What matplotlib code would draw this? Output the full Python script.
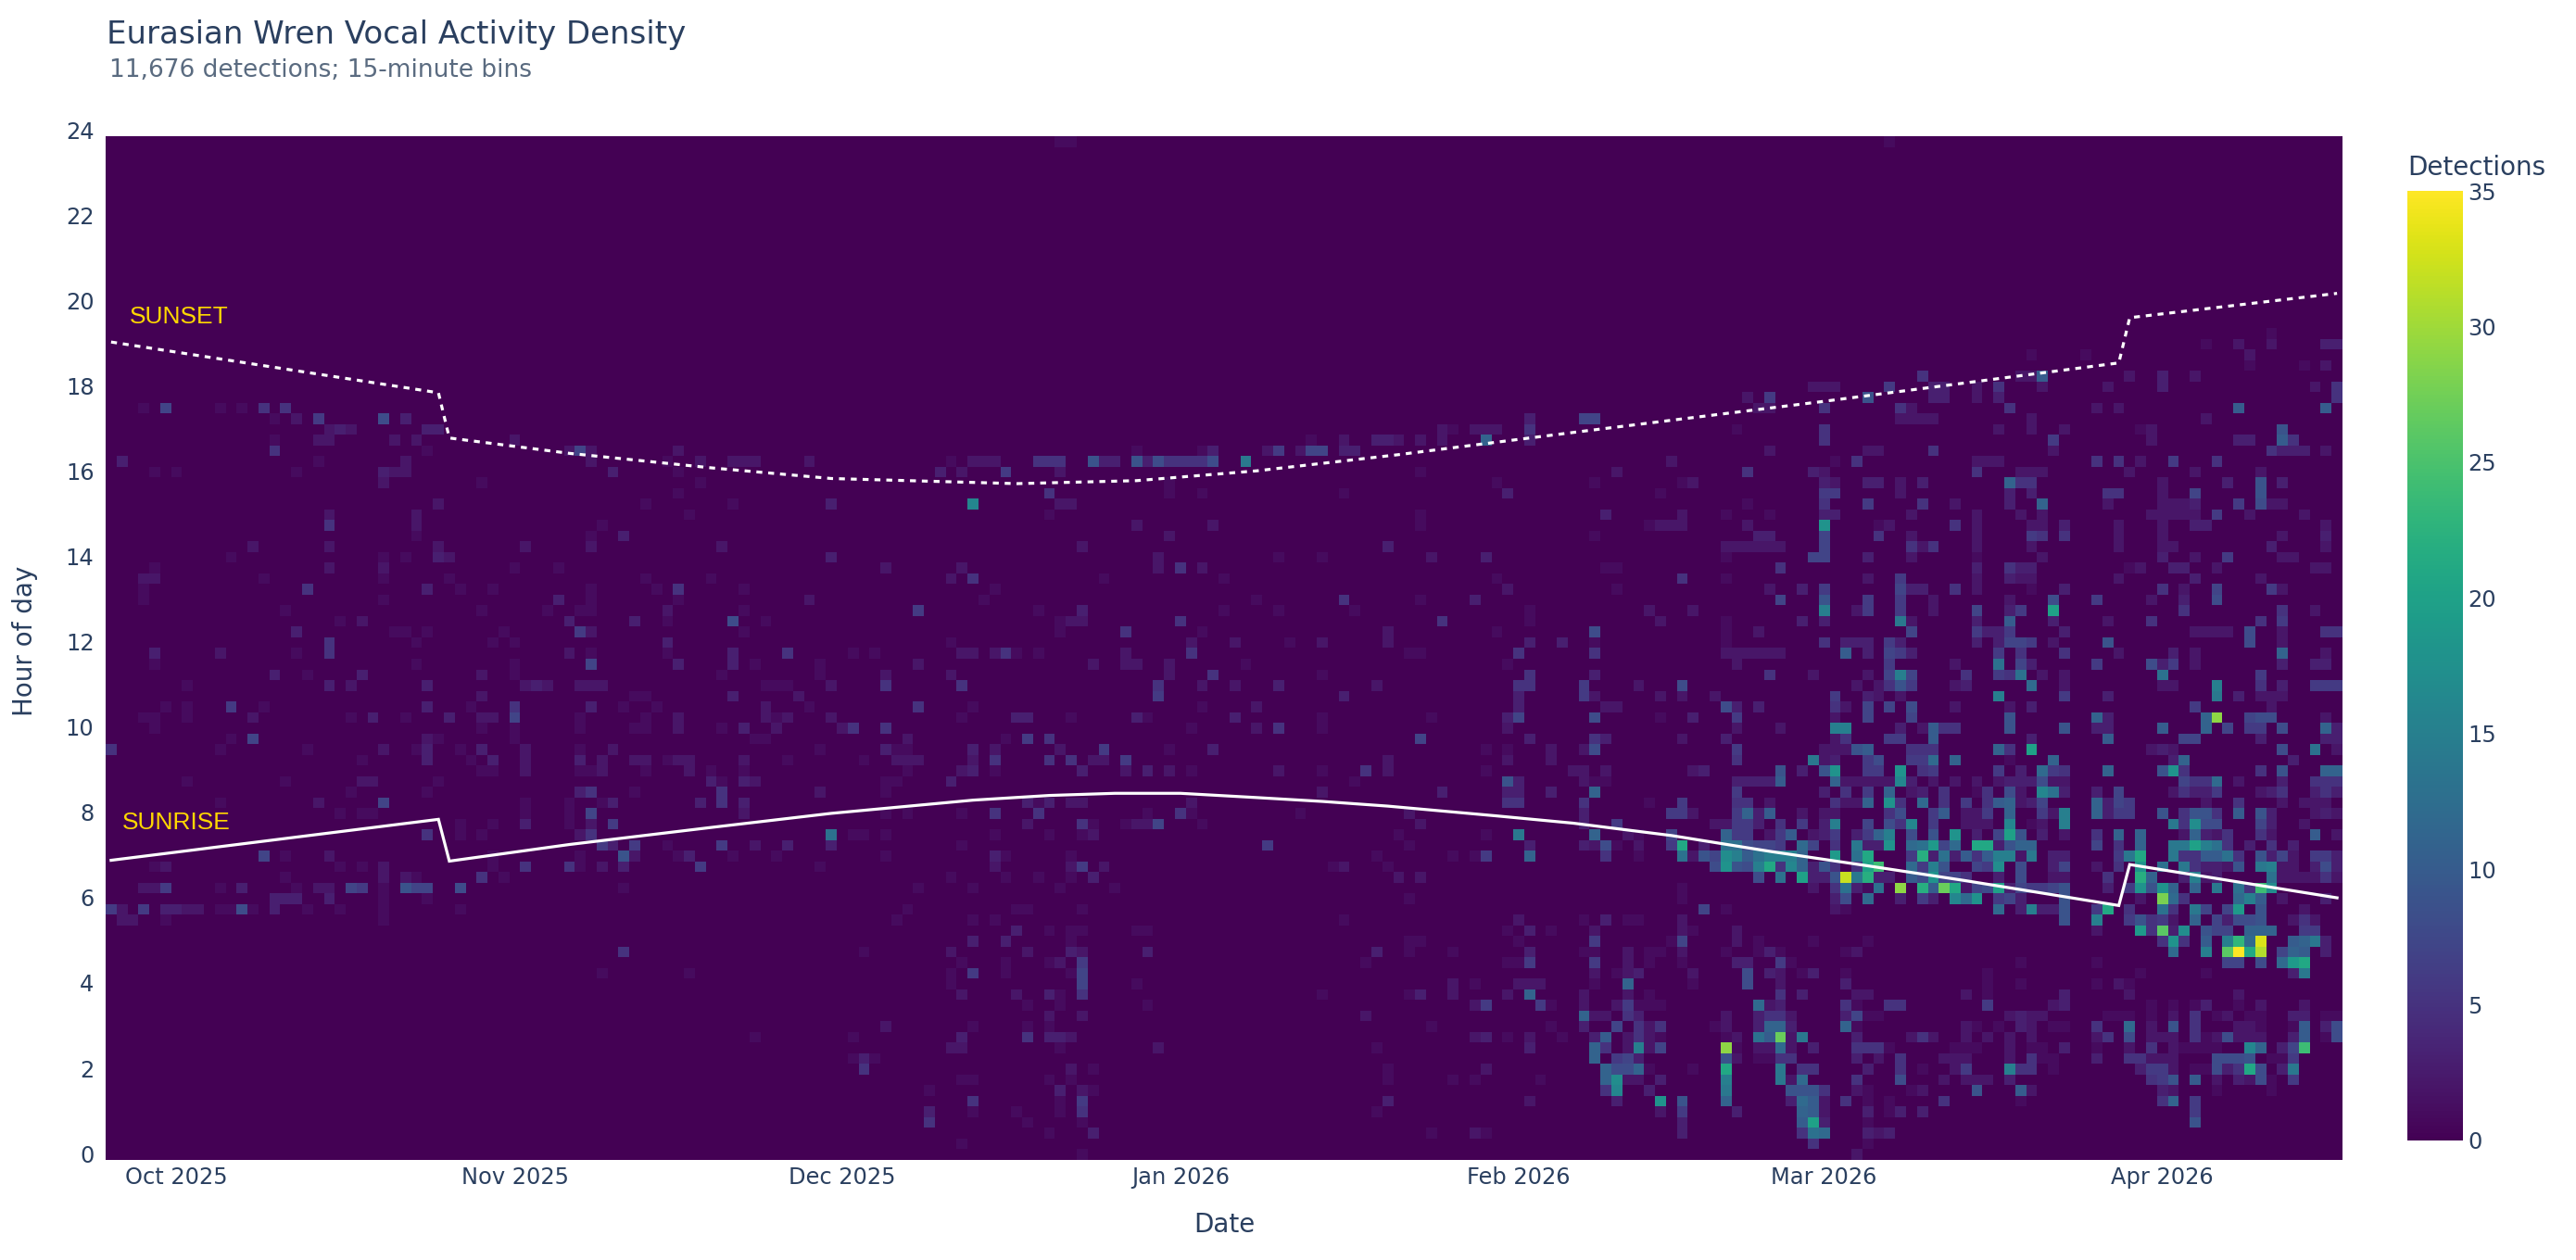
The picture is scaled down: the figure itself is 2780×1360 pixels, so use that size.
import numpy as np
import pandas as pd
import matplotlib
matplotlib.use("Agg")
import matplotlib.pyplot as plt

# --- DATES AND TICKS ---
first_day = pd.Timestamp("2025-09-25")
n_days = 205
n_slots = 96  # 15-minute bins
month_ticks = ["2025-10-01", "2025-11-01", "2025-12-01", "2026-01-01", "2026-02-01", "2026-03-01", "2026-04-01"]
hour_ticks = [0, 2, 4, 6, 8, 10, 12, 14, 16, 18, 20, 22, 24]
count_ticks = [0, 5, 10, 15, 20, 25, 30, 35]

# --- SUN TIMES (day number, hour) ---
sunrise_days = [0, 30, 31, 42, 55, 66, 79, 86, 92, 98, 105, 111, 117, 127, 134, 143, 152, 161, 170, 184, 185, 204]
sunrise_hours = [6.90, 7.86, 6.88, 7.27, 7.67, 8.00, 8.31, 8.42, 8.47, 8.47, 8.37, 8.28, 8.17, 7.94, 7.77, 7.48, 7.11, 6.77, 6.42, 5.84, 6.80, 6.02]
sunset_days = [0, 30, 31, 42, 55, 66, 83, 94, 105, 118, 134, 157, 184, 185, 204]
sunset_hours = [19.05, 17.86, 16.80, 16.44, 16.10, 15.85, 15.73, 15.80, 16.03, 16.41, 16.93, 17.66, 18.56, 19.62, 20.19]

# --- DETECTIONS: {slot: {day number: level}}, empty cells are zero ---
autumn_counts = {
    70: {3: 2, 5: 7, 10: 2, 12: 2, 14: 5, 16: 5},
    69: {15: 2, 17: 3, 19: 6, 25: 8, 27: 4},
    68: {20: 3, 21: 4, 22: 3, 29: 4, 30: 4},
    67: {15: 2, 19: 3, 20: 3, 26: 3, 28: 3, 37: 3},
    66: {15: 5, 29: 2, 42: 3, 43: 7, 44: 3, 52: 3},
    65: {1: 4, 19: 2, 27: 3, 44: 3, 51: 2, 54: 3, 57: 3, 58: 3, 59: 3, 64: 3},
    64: {4: 2, 6: 2, 17: 2, 25: 4, 26: 3, 27: 3, 46: 4, 52: 2},
    63: {25: 3, 34: 2, 54: 2},
    62: {52: 2},
    61: {30: 3, 49: 2, 57: 2, 66: 4},
    60: {20: 3, 28: 3, 53: 2},
    59: {20: 5, 28: 3, 45: 2},
    58: {28: 2, 44: 2, 47: 4},
    57: {13: 3, 20: 3, 30: 3, 38: 3, 44: 3, 56: 3},
    56: {11: 2, 25: 2, 27: 2, 30: 4, 31: 3, 66: 4},
    55: {4: 2, 20: 3, 25: 3, 37: 2, 41: 2},
    54: {3: 3, 4: 3, 14: 2, 25: 2, 31: 2, 49: 2, 55: 2},
    53: {3: 2, 18: 5, 29: 4, 32: 2, 35: 2, 44: 2, 50: 2, 52: 5, 58: 2},
    52: {3: 2, 25: 2, 41: 4, 44: 2, 52: 2, 64: 3},
    51: {16: 2, 34: 2, 40: 2, 43: 2, 44: 2, 51: 3, 58: 2},
    50: {21: 2, 23: 3, 42: 4, 48: 4, 51: 2, 57: 8, 60: 2},
    49: {17: 4, 26: 2, 27: 2, 29: 2, 36: 2, 43: 6, 44: 3, 58: 2},
    48: {20: 5, 28: 2, 35: 2, 37: 2, 51: 4},
    47: {4: 4, 10: 3, 17: 2, 20: 5, 42: 3, 44: 2, 51: 2, 57: 4, 62: 5},
    46: {4: 2, 28: 2, 37: 2, 44: 7, 52: 4, 57: 4, 59: 2, 65: 2},
    45: {15: 4, 18: 2, 23: 4, 34: 3, 37: 2, 56: 2, 65: 2},
    44: {7: 2, 20: 4, 22: 3, 29: 4, 38: 3, 39: 4, 40: 3, 43: 3, 44: 3, 45: 3, 60: 2, 61: 2, 62: 2, 66: 3},
    43: {34: 3, 48: 2, 49: 2, 57: 4, 63: 3},
    42: {5: 2, 7: 2, 11: 6, 14: 2, 29: 4, 33: 2, 37: 5, 44: 4, 47: 2, 50: 2, 60: 3, 64: 2},
    41: {3: 2, 4: 2, 7: 2, 13: 3, 22: 2, 24: 4, 27: 2, 31: 4, 34: 3, 35: 3, 37: 7, 43: 2, 49: 2, 52: 3, 60: 3, 61: 2, 62: 3, 66: 3},
    40: {4: 2, 34: 2, 37: 2, 43: 2, 48: 2, 49: 2, 52: 3, 56: 2, 58: 4, 61: 3},
    39: {11: 2, 13: 7, 29: 3, 30: 2, 37: 2, 59: 2, 60: 2},
    38: {0: 5, 10: 2, 18: 2, 25: 3, 28: 2, 29: 4, 32: 2, 34: 4, 38: 3, 43: 2, 46: 3, 65: 2},
    37: {23: 2, 29: 4, 33: 2, 35: 4, 38: 3, 43: 4, 45: 3, 48: 3, 49: 3, 51: 2, 52: 3, 53: 3, 58: 3, 62: 2},
    36: {34: 2, 35: 2, 38: 3, 43: 2, 44: 2, 45: 3, 49: 2, 53: 3, 55: 2, 58: 2},
    35: {7: 2, 16: 2, 23: 3, 24: 3, 30: 2, 55: 4, 56: 2, 58: 4, 59: 3},
    34: {22: 2, 29: 2, 43: 4, 44: 5, 48: 2, 56: 5, 65: 3},
    33: {10: 2, 19: 3, 25: 7, 38: 2, 42: 2, 45: 2, 46: 4, 54: 4, 56: 5, 58: 4},
    32: {21: 2, 23: 2, 24: 2, 38: 2, 42: 2, 44: 7, 58: 3},
    31: {32: 2, 35: 2, 38: 4, 42: 2, 44: 3, 46: 6},
    30: {29: 5, 32: 2, 34: 2, 43: 3, 44: 5},
    29: {45: 6, 46: 4, 48: 6, 51: 2, 56: 6, 59: 3, 62: 4},
    28: {14: 7, 16: 2, 20: 3, 35: 2, 43: 2, 47: 9, 48: 3, 52: 2, 53: 4, 57: 2, 61: 2},
    27: {4: 2, 5: 3, 21: 2, 23: 2, 25: 3, 35: 2, 38: 5, 42: 5, 43: 2, 45: 3, 47: 4, 54: 6, 65: 2},
    26: {16: 2, 25: 3, 27: 3, 28: 2, 34: 5, 36: 2},
    25: {3: 3, 4: 3, 5: 6, 10: 2, 12: 4, 17: 2, 19: 3, 20: 3, 22: 7, 23: 6, 25: 2, 27: 9, 28: 7, 29: 7, 32: 8, 47: 2},
    24: {15: 4, 16: 4, 17: 4, 20: 4, 25: 2, 29: 2},
    23: {0: 6, 1: 3, 3: 6, 5: 4, 6: 4, 7: 3, 8: 3, 10: 2, 11: 2, 12: 8, 13: 2, 15: 4, 18: 2, 21: 2, 25: 2, 32: 2},
    22: {1: 3, 2: 3, 5: 2, 25: 2},
    19: {47: 5},
    17: {45: 2, 53: 2},
    11: {59: 2},
}

winter_counts = {
    95: {87: 2, 88: 2},
    69: {130: 4},
    68: {122: 3, 123: 2, 125: 3, 126: 3, 127: 3, 130: 5},
    67: {110: 2, 113: 3, 116: 4, 117: 4, 118: 3, 120: 3, 122: 3, 126: 11, 130: 4},
    66: {94: 2, 100: 2, 101: 4, 106: 3, 107: 6, 109: 3, 110: 7, 111: 7, 113: 4, 114: 4},
    65: {77: 2, 79: 3, 80: 3, 81: 3, 85: 5, 86: 5, 87: 5, 90: 9, 91: 4, 92: 4, 94: 9, 95: 4, 96: 8, 97: 5, 98: 5, 99: 5, 100: 5, 101: 8, 104: 14},
    64: {76: 4, 78: 3, 82: 6, 87: 3, 120: 2},
    63: {97: 2, 127: 2},
    62: {86: 5, 97: 2, 100: 2, 113: 2, 128: 4},
    61: {79: 16, 87: 3, 88: 3},
    60: {86: 2, 120: 2},
    59: {94: 3, 101: 3, 120: 2},
    58: {97: 3},
    57: {89: 3, 117: 4},
    56: {96: 3, 107: 2, 111: 2, 121: 3, 126: 4},
    55: {71: 3, 78: 3, 96: 3, 98: 5, 100: 3},
    54: {77: 3, 79: 5, 91: 2, 102: 2, 127: 2},
    53: {81: 2, 128: 3},
    52: {80: 2, 105: 2, 113: 5, 120: 2, 125: 4},
    51: {74: 6, 85: 2, 89: 4, 102: 2, 107: 2, 114: 2, 130: 2},
    50: {87: 2, 88: 3, 89: 3, 98: 5, 122: 5, 130: 2},
    49: {87: 2, 93: 5, 100: 2, 117: 3, 127: 2},
    48: {77: 2, 99: 3, 103: 3, 108: 2, 111: 3, 117: 3, 130: 4, 133: 4},
    47: {68: 2, 70: 2, 78: 3, 79: 3, 81: 3, 82: 5, 83: 2, 85: 2, 93: 3, 99: 5, 119: 2, 120: 2, 129: 5},
    46: {74: 3, 90: 3, 93: 3, 94: 3, 97: 3, 104: 2, 128: 2},
    45: {71: 3, 77: 3, 97: 3, 101: 5, 111: 2, 130: 5},
    44: {66: 3, 71: 5, 78: 5, 96: 5, 100: 3, 103: 3, 107: 4, 116: 3, 129: 5, 130: 5},
    43: {96: 6, 113: 4, 129: 4},
    42: {74: 5, 79: 2, 100: 2, 105: 3, 129: 4},
    41: {66: 3, 78: 2, 83: 4, 84: 4, 88: 2, 94: 4, 95: 2, 103: 4, 111: 2, 121: 2, 128: 4, 129: 7},
    40: {67: 3, 68: 5, 71: 5, 99: 2, 105: 3, 107: 5, 111: 2, 128: 3},
    39: {73: 3, 82: 2, 84: 6, 86: 5, 120: 7, 130: 4},
    38: {71: 4, 72: 2, 73: 2, 79: 4, 81: 3, 87: 3, 91: 6, 97: 2, 101: 4, 126: 2, 128: 2, 132: 3},
    37: {69: 2, 72: 3, 73: 3, 74: 3, 79: 3, 81: 5, 86: 5, 88: 5, 90: 3, 91: 3, 93: 6, 117: 3, 128: 3, 132: 3},
    36: {73: 2, 78: 3, 79: 4, 81: 2, 89: 4, 93: 3, 95: 4, 97: 3, 99: 2, 107: 3, 111: 2, 115: 5, 117: 3, 126: 2, 134: 3},
    35: {71: 2, 72: 2, 77: 4, 114: 2, 128: 9, 129: 4},
    34: {71: 2, 111: 3, 122: 4, 128: 4, 129: 4, 132: 4},
    33: {84: 4, 85: 2, 86: 4, 88: 3, 89: 3, 99: 3, 128: 5, 129: 5},
    32: {71: 2, 73: 2, 78: 2, 81: 5, 85: 5, 95: 2, 98: 5, 99: 2, 109: 2, 119: 3},
    31: {84: 3, 89: 5, 90: 2, 93: 2, 94: 3, 95: 3, 96: 7, 100: 2, 120: 3},
    30: {66: 13, 68: 2, 69: 2, 71: 2, 81: 2, 86: 2, 89: 2, 90: 3, 118: 2, 126: 2, 129: 14},
    29: {66: 4, 78: 2, 106: 6, 119: 2, 130: 4},
    28: {71: 2, 81: 4, 82: 2, 88: 2, 116: 2, 123: 2, 125: 2, 126: 6, 130: 11},
    27: {81: 3, 88: 3, 89: 6, 91: 3, 112: 2, 113: 3, 117: 2},
    26: {77: 2, 82: 2, 85: 2, 88: 2, 90: 4, 118: 3, 120: 3},
    25: {74: 2, 79: 2, 87: 2, 92: 2},
    24: {119: 2},
    23: {73: 2, 83: 2, 84: 2, 89: 2},
    22: {72: 2, 79: 2, 81: 2, 113: 2, 129: 3},
    21: {83: 4, 86: 2, 88: 2, 89: 2, 94: 2, 95: 2, 128: 2, 130: 4, 132: 2},
    20: {79: 4, 82: 4, 88: 2, 119: 2, 120: 2, 129: 2},
    19: {69: 2, 77: 3, 84: 3, 88: 4, 89: 3, 95: 4, 116: 4, 119: 2, 123: 2, 130: 4},
    18: {78: 2, 82: 2, 86: 2, 87: 3, 89: 6, 115: 2, 128: 2, 129: 2, 130: 6},
    17: {77: 2, 79: 6, 82: 2, 88: 2, 89: 7},
    16: {77: 2, 89: 7, 94: 2, 123: 3, 125: 2, 129: 3, 130: 3, 131: 3},
    15: {78: 3, 83: 3, 86: 4, 87: 2, 89: 5, 111: 2, 119: 2, 120: 4, 123: 3, 128: 3, 130: 11},
    14: {84: 2, 87: 2, 95: 2, 125: 3, 126: 6, 131: 6, 132: 2},
    13: {86: 3, 89: 3, 115: 3},
    12: {71: 3, 79: 2, 84: 2, 86: 2, 121: 2, 132: 2},
    11: {68: 2, 78: 4, 84: 5, 86: 4, 87: 4, 88: 3, 125: 3, 126: 4, 128: 2, 130: 3, 133: 2},
    10: {77: 3, 78: 3, 87: 2, 96: 3, 116: 2, 130: 4},
    9: {68: 2, 69: 4, 70: 2},
    8: {69: 5, 88: 3, 90: 2, 117: 2, 126: 3},
    7: {78: 2, 79: 2, 86: 2, 88: 2, 117: 2, 123: 2, 125: 2, 131: 2},
    6: {75: 2, 87: 4, 89: 3, 90: 2},
    5: {79: 5, 87: 2, 89: 6, 117: 4, 130: 3},
    4: {75: 4, 79: 2, 83: 2, 87: 2, 89: 5, 116: 2},
    3: {75: 5, 84: 2, 89: 2},
    2: {86: 2, 90: 4, 121: 2, 125: 3, 126: 2},
    1: {78: 2},
    0: {89: 2},
}

spring_daytime_counts = {
    95: {163: 2},
    77: {198: 2},
    76: {192: 2, 195: 3, 198: 3, 203: 4, 204: 4},
    75: {176: 2, 181: 2, 196: 3},
    74: {196: 2, 201: 2, 203: 3},
    73: {166: 5, 175: 3, 176: 3, 177: 10, 185: 3, 188: 4, 191: 3},
    72: {156: 3, 157: 3, 158: 3, 163: 6, 167: 4, 168: 4, 171: 3, 173: 5, 177: 3, 183: 3, 188: 4, 202: 3, 204: 5},
    71: {150: 3, 152: 6, 161: 9, 167: 4, 168: 4, 171: 3, 173: 4, 204: 5},
    70: {151: 3, 152: 3, 157: 5, 164: 5, 165: 3, 174: 5, 182: 3, 184: 3, 195: 10, 203: 10},
    69: {135: 7, 136: 7, 164: 3, 165: 3, 166: 3, 167: 3, 176: 3, 192: 3},
    68: {149: 2, 157: 5, 173: 3, 176: 3, 179: 3, 186: 2, 187: 3, 199: 9},
    67: {157: 5, 178: 6, 187: 3, 195: 4, 196: 4, 199: 10, 200: 5},
    66: {152: 3, 161: 3, 162: 3, 167: 5, 178: 3, 198: 5, 199: 4, 200: 4, 201: 4, 203: 3},
    65: {143: 3, 158: 2, 160: 5, 171: 3, 172: 3, 173: 3, 182: 5, 184: 5, 186: 3, 189: 6, 193: 5},
    64: {138: 3, 150: 5, 156: 4, 157: 3, 171: 5, 175: 3, 176: 3, 177: 3, 185: 3, 191: 3, 197: 3},
    63: {136: 2, 144: 2, 145: 3, 157: 4, 158: 3, 161: 4, 162: 4, 164: 3, 166: 4, 174: 11, 175: 5, 176: 5, 188: 3, 194: 4, 197: 9, 199: 4},
    62: {142: 2, 157: 6, 158: 6, 164: 3, 174: 4, 176: 4, 183: 5, 184: 5, 188: 3, 191: 7, 197: 9},
    61: {150: 2, 157: 5, 161: 6, 166: 5, 169: 3, 174: 4, 177: 11, 183: 3, 188: 3, 189: 3, 190: 3, 191: 4, 195: 6, 197: 8, 198: 3, 199: 3},
    60: {137: 4, 144: 3, 148: 2, 152: 2, 157: 4, 158: 4, 165: 3, 171: 3, 175: 3, 177: 3, 187: 3, 188: 3, 189: 3, 190: 3, 191: 3, 193: 6, 196: 3, 201: 3},
    59: {141: 2, 142: 3, 143: 3, 144: 3, 150: 3, 157: 18, 162: 2, 163: 3, 169: 5, 171: 3, 176: 3, 177: 3, 179: 4, 184: 3, 188: 3, 191: 4, 192: 4, 203: 3},
    58: {136: 2, 151: 4, 152: 4, 157: 7, 162: 5, 165: 3, 171: 3, 176: 6, 177: 5, 179: 5, 184: 3, 188: 3, 199: 3, 203: 4},
    57: {148: 3, 149: 3, 150: 3, 151: 3, 152: 3, 153: 3, 157: 7, 165: 5, 166: 3, 167: 5, 171: 3, 176: 3, 184: 3, 188: 3, 189: 3, 198: 4, 203: 3},
    56: {148: 2, 156: 7, 157: 7, 161: 4, 165: 3, 171: 2, 177: 3, 188: 4, 191: 3, 194: 6, 199: 3, 200: 3},
    55: {137: 2, 138: 2, 153: 5, 171: 4, 174: 5, 175: 4, 176: 4, 185: 2, 186: 3, 189: 4, 190: 4, 193: 3, 202: 3, 203: 3},
    54: {144: 5, 148: 2, 161: 3, 164: 6, 171: 3, 174: 4, 175: 3, 176: 3, 184: 3, 191: 4, 197: 3},
    53: {138: 2, 152: 3, 155: 4, 157: 6, 164: 7, 165: 4, 166: 4, 169: 5, 171: 3, 176: 2, 179: 4, 188: 5, 190: 3, 193: 7, 198: 6, 199: 3},
    52: {153: 7, 157: 9, 161: 6, 164: 6, 167: 3, 174: 3, 178: 8, 182: 6, 187: 3, 190: 4, 193: 8},
    51: {141: 3, 145: 3, 157: 15, 160: 3, 161: 6, 164: 6, 167: 3, 171: 7, 174: 4, 175: 6, 178: 20, 190: 5, 199: 5, 202: 3},
    50: {142: 3, 148: 2, 155: 4, 157: 4, 164: 14, 165: 3, 171: 4, 174: 10, 178: 4, 183: 3, 187: 5, 197: 5, 199: 6},
    49: {136: 8, 148: 2, 151: 3, 165: 7, 171: 6, 172: 4, 173: 4, 174: 6, 179: 4, 191: 3, 192: 3, 193: 3, 194: 3, 196: 8, 199: 3, 203: 5, 204: 5},
    48: {136: 2, 148: 2, 157: 5, 159: 4, 160: 4, 161: 4, 163: 6, 164: 4, 171: 4, 173: 4, 174: 7, 175: 7, 176: 6, 178: 3, 183: 9, 196: 8, 199: 3},
    47: {136: 5, 148: 3, 149: 3, 150: 3, 151: 3, 152: 3, 153: 3, 159: 10, 161: 4, 163: 7, 164: 6, 165: 4, 173: 6, 175: 5, 179: 5, 184: 3, 189: 4, 191: 3, 199: 11, 203: 3},
    46: {149: 3, 163: 6, 169: 3, 173: 13, 175: 7, 176: 4, 182: 6, 187: 8, 188: 4, 189: 6, 191: 3, 199: 4, 202: 4, 203: 4},
    45: {136: 4, 152: 5, 156: 3, 161: 3, 163: 7, 164: 15, 165: 7, 170: 5, 173: 6, 174: 5, 175: 13, 177: 3, 179: 3, 188: 13, 197: 6},
    44: {135: 6, 140: 3, 144: 8, 160: 3, 162: 3, 163: 5, 164: 9, 165: 6, 169: 3, 170: 4, 176: 12, 179: 3, 188: 3, 189: 3, 193: 15, 197: 5, 199: 4, 202: 6, 203: 6, 204: 6},
    43: {135: 6, 136: 3, 142: 3, 144: 3, 147: 3, 158: 6, 161: 4, 162: 3, 164: 3, 173: 15, 179: 6, 183: 4, 193: 14, 195: 4, 197: 3, 198: 3, 199: 3},
    42: {137: 3, 138: 3, 148: 8, 149: 4, 151: 4, 158: 5, 159: 3, 161: 7, 163: 7, 165: 8, 169: 3, 174: 3, 176: 4, 191: 6, 198: 3},
    41: {136: 8, 142: 2, 145: 4, 149: 6, 158: 3, 161: 7, 165: 7, 174: 9, 182: 11, 183: 4, 192: 11, 193: 29, 196: 7, 197: 8, 198: 8, 203: 3},
    40: {149: 3, 153: 3, 158: 15, 159: 15, 164: 4, 166: 3, 167: 10, 168: 5, 169: 5, 174: 9, 179: 9, 182: 4, 183: 4, 188: 10, 192: 11, 194: 7, 196: 6, 197: 6, 199: 8, 203: 11, 204: 4},
    39: {136: 5, 137: 4, 144: 3, 148: 4, 158: 3, 159: 5, 163: 6, 164: 6, 167: 10, 176: 4, 183: 10, 190: 7, 191: 7, 197: 4, 203: 4, 204: 4},
    38: {135: 3, 136: 8, 149: 6, 157: 3, 158: 3, 159: 3, 160: 9, 161: 10, 165: 5, 166: 5, 167: 5, 173: 11, 174: 5, 176: 20, 187: 3, 188: 4, 189: 3, 199: 8, 202: 13, 204: 3},
    37: {149: 5, 156: 14, 157: 3, 158: 4, 161: 6, 162: 8, 165: 6, 166: 6, 167: 12, 169: 11, 174: 2, 178: 11, 189: 4, 190: 11, 200: 4},
    36: {135: 3, 137: 3, 145: 3, 146: 4, 153: 9, 155: 4, 157: 9, 158: 18, 161: 6, 162: 6, 164: 18, 166: 5, 167: 6, 173: 6, 175: 4, 177: 12, 178: 6, 179: 5, 183: 11, 188: 9, 189: 18, 190: 5, 197: 5, 199: 9, 203: 11, 204: 11},
}

spring_dawn_counts = {
    35: {135: 3, 136: 2, 137: 2, 149: 4, 150: 4, 151: 4, 152: 4, 153: 10, 158: 11, 159: 3, 160: 3, 161: 3, 162: 3, 163: 3, 164: 16, 165: 4, 167: 3, 169: 3, 171: 3, 173: 3, 174: 4, 175: 4, 176: 4, 177: 8, 178: 3, 179: 3, 190: 7, 191: 5, 192: 5, 193: 12, 195: 3, 199: 4, 202: 5, 203: 5, 204: 5},
    34: {136: 11, 149: 6, 157: 4, 159: 5, 161: 6, 163: 11, 165: 3, 166: 4, 168: 5, 171: 2, 172: 5, 174: 8, 175: 3, 177: 16, 178: 13, 179: 4, 182: 4, 184: 7, 189: 3, 190: 5, 191: 4, 192: 4, 193: 6, 197: 3, 198: 4, 199: 5, 202: 4, 203: 5, 204: 4},
    33: {135: 5, 141: 2, 144: 6, 149: 5, 150: 5, 152: 3, 158: 5, 159: 3, 160: 3, 161: 11, 163: 18, 164: 5, 166: 12, 168: 5, 170: 6, 172: 5, 173: 10, 174: 11, 175: 3, 176: 4, 177: 7, 182: 11, 183: 4, 184: 7, 185: 6, 192: 3, 195: 5, 199: 3, 201: 3, 202: 3, 203: 3},
    32: {135: 4, 143: 6, 144: 6, 145: 3, 149: 6, 150: 11, 151: 4, 152: 10, 155: 3, 157: 3, 158: 3, 163: 5, 164: 8, 167: 6, 168: 10, 170: 3, 171: 3, 172: 6, 174: 11, 177: 6, 178: 3, 179: 15, 182: 11, 183: 4, 184: 6, 185: 6, 188: 9, 190: 5, 191: 9, 192: 9, 193: 5, 195: 10, 197: 9, 198: 4, 202: 3, 203: 4, 204: 3},
    31: {135: 4, 138: 6, 147: 3, 148: 3, 149: 6, 150: 6, 151: 4, 153: 5, 155: 6, 157: 4, 158: 15, 161: 7, 163: 8, 164: 5, 165: 16, 167: 6, 170: 3, 171: 3, 172: 3, 174: 16, 176: 2, 177: 3, 179: 15, 189: 14, 190: 5, 191: 17, 192: 8, 193: 8, 197: 7, 198: 4, 201: 3},
    30: {136: 11, 139: 3, 140: 2, 143: 7, 148: 11, 149: 6, 150: 6, 152: 3, 153: 6, 154: 10, 156: 3, 157: 4, 158: 6, 160: 4, 161: 6, 162: 11, 163: 15, 165: 8, 167: 9, 169: 18, 171: 4, 173: 7, 174: 20, 175: 9, 177: 4, 179: 3, 182: 5, 184: 11, 186: 11, 190: 3, 191: 11, 192: 4, 193: 3, 194: 5, 197: 5, 198: 3, 202: 10, 204: 3},
    29: {135: 4, 136: 3, 137: 8, 138: 2, 140: 3, 143: 6, 144: 21, 146: 4, 148: 13, 149: 13, 150: 8, 151: 7, 152: 7, 153: 6, 155: 12, 156: 7, 158: 5, 160: 14, 161: 4, 162: 4, 163: 18, 165: 12, 166: 13, 167: 19, 168: 7, 169: 12, 171: 21, 172: 21, 173: 4, 174: 9, 175: 11, 176: 11, 182: 7, 184: 5, 186: 11, 189: 14, 190: 14, 191: 20, 192: 15, 193: 13, 194: 5, 196: 4, 198: 5, 200: 4},
    28: {137: 5, 140: 2, 144: 13, 145: 3, 146: 9, 147: 7, 148: 17, 149: 15, 150: 10, 151: 13, 152: 15, 153: 15, 154: 15, 155: 11, 158: 19, 160: 13, 161: 21, 165: 6, 166: 22, 167: 4, 168: 13, 169: 4, 170: 10, 171: 5, 172: 10, 173: 15, 174: 15, 175: 3, 176: 14, 178: 4, 179: 4, 184: 6, 185: 14, 186: 21, 189: 14, 190: 5, 191: 5, 192: 10, 193: 10, 194: 13, 195: 5, 197: 9, 198: 4, 199: 7, 200: 3, 202: 6, 203: 6, 204: 4},
    27: {147: 8, 148: 18, 149: 9, 150: 8, 151: 15, 152: 21, 153: 5, 154: 16, 155: 11, 156: 4, 157: 9, 158: 5, 160: 5, 161: 20, 162: 24, 165: 12, 166: 6, 167: 15, 168: 9, 171: 7, 172: 6, 173: 17, 175: 8, 178: 4, 179: 7, 182: 3, 184: 5, 186: 18, 188: 13, 190: 14, 191: 5, 192: 4, 193: 4, 194: 3, 195: 9, 197: 14, 198: 15, 199: 3, 200: 3, 202: 4, 203: 8, 204: 4},
    26: {151: 8, 153: 13, 155: 20, 156: 4, 157: 4, 158: 9, 159: 32, 160: 14, 161: 22, 162: 4, 163: 4, 165: 10, 166: 8, 167: 18, 168: 7, 169: 7, 170: 5, 173: 4, 175: 8, 178: 3, 179: 3, 183: 5, 186: 22, 187: 11, 190: 4, 191: 15, 192: 3, 193: 4, 198: 13, 199: 3, 200: 3, 201: 3, 202: 3, 203: 5, 204: 3},
    25: {144: 2, 156: 3, 158: 5, 159: 13, 160: 4, 161: 2, 162: 13, 164: 29, 166: 22, 167: 10, 168: 27, 169: 21, 170: 3, 171: 7, 172: 8, 173: 20, 174: 4, 175: 7, 176: 6, 177: 6, 178: 7, 179: 9, 183: 4, 185: 6, 186: 18, 187: 9, 188: 18, 189: 11, 191: 11, 193: 14, 195: 13, 196: 5, 197: 24, 198: 17},
    24: {144: 2, 158: 4, 159: 8, 161: 12, 164: 4, 166: 6, 167: 4, 169: 16, 170: 12, 171: 18, 173: 6, 174: 7, 175: 4, 179: 9, 186: 3, 188: 28, 189: 12, 190: 5, 195: 12, 196: 15, 197: 10, 199: 3, 203: 4},
    23: {146: 7, 148: 2, 158: 3, 159: 2, 173: 12, 175: 4, 176: 15, 177: 4, 178: 4, 179: 9, 182: 6, 183: 21, 185: 5, 188: 13, 189: 5, 191: 14, 192: 7, 194: 7, 195: 19, 197: 9, 201: 3},
    22: {135: 2, 137: 4, 139: 2, 140: 2, 144: 3, 179: 9, 182: 15, 185: 6, 186: 9, 187: 5, 188: 6, 189: 3, 191: 11, 193: 7, 194: 4, 195: 8, 196: 8, 197: 9, 200: 3, 201: 5, 202: 3},
    21: {136: 3, 144: 3, 145: 2, 149: 3, 182: 3, 186: 19, 187: 5, 188: 26, 189: 4, 190: 17, 192: 9, 193: 7, 194: 7, 196: 11, 197: 11, 198: 11, 201: 6, 202: 6},
    20: {136: 6, 143: 2, 144: 7, 149: 3, 151: 2, 156: 2, 161: 2, 188: 5, 189: 18, 190: 5, 192: 10, 194: 15, 195: 23, 196: 12, 197: 33, 200: 10, 201: 11, 202: 14, 203: 4},
    19: {135: 2, 136: 2, 139: 3, 141: 2, 142: 2, 144: 3, 148: 2, 151: 2, 152: 4, 153: 2, 159: 2, 160: 3, 189: 12, 192: 15, 194: 26, 195: 35, 196: 21, 197: 31, 199: 7, 200: 11, 201: 10, 203: 4},
    18: {136: 6, 139: 3, 141: 2, 144: 2, 149: 4, 150: 4, 153: 6, 154: 2, 175: 2, 182: 2, 194: 7, 195: 7, 197: 8, 199: 12, 200: 19, 201: 21},
    17: {136: 3, 138: 2, 139: 3, 140: 4, 145: 3, 150: 8, 152: 4, 153: 3, 155: 2, 156: 4, 159: 2, 172: 2, 186: 2, 192: 2, 200: 4, 201: 14},
    16: {136: 2, 139: 11, 145: 2, 150: 8, 153: 3, 159: 4, 172: 2, 175: 2, 182: 2, 184: 3, 185: 2},
    15: {135: 3, 139: 3, 141: 2, 153: 5, 155: 4, 160: 3, 161: 3, 170: 3, 172: 2, 179: 4, 185: 3, 195: 3},
    14: {135: 3, 138: 3, 139: 6, 140: 2, 141: 2, 142: 2, 151: 12, 152: 3, 153: 4, 159: 5, 160: 2, 163: 5, 164: 5, 172: 6, 178: 3, 179: 4, 187: 2, 189: 2, 191: 2, 192: 4, 195: 2, 197: 3, 201: 3},
}

spring_night_counts = {
    13: {135: 11, 136: 3, 137: 3, 139: 5, 140: 4, 148: 3, 151: 4, 152: 5, 153: 5, 154: 3, 159: 4, 160: 7, 161: 2, 162: 2, 174: 3, 175: 4, 176: 3, 177: 3, 183: 2, 184: 2, 185: 2, 187: 2, 189: 3, 191: 5, 193: 2, 194: 3, 196: 2, 197: 2, 200: 4, 201: 4, 203: 2, 204: 2},
    12: {135: 4, 138: 7, 140: 5, 141: 3, 142: 5, 147: 2, 148: 3, 151: 4, 152: 11, 153: 11, 154: 4, 159: 11, 160: 2, 170: 3, 171: 2, 173: 2, 175: 4, 176: 3, 178: 2, 179: 2, 182: 5, 185: 12, 187: 3, 189: 9, 191: 5, 195: 3, 196: 3, 197: 2, 200: 2, 201: 10, 203: 4, 204: 8},
    11: {136: 4, 137: 10, 139: 3, 140: 5, 141: 3, 142: 2, 148: 2, 149: 3, 151: 13, 152: 10, 153: 27, 154: 3, 155: 14, 160: 4, 165: 3, 166: 5, 167: 3, 170: 3, 172: 3, 174: 3, 176: 3, 182: 3, 183: 5, 185: 8, 187: 3, 188: 3, 189: 3, 191: 5, 192: 2, 193: 3, 194: 8, 195: 3, 196: 3, 197: 3, 200: 4, 201: 10, 203: 2, 204: 8},
    10: {136: 11, 137: 5, 139: 3, 140: 15, 141: 3, 142: 7, 148: 29, 149: 2, 151: 3, 152: 3, 153: 12, 154: 3, 156: 4, 160: 5, 161: 5, 162: 5, 163: 2, 169: 2, 170: 2, 171: 2, 174: 3, 176: 2, 177: 2, 179: 4, 182: 2, 185: 3, 187: 5, 189: 3, 190: 2, 191: 2, 192: 2, 193: 2, 196: 16, 197: 11, 199: 4, 200: 7, 201: 24},
    9: {136: 11, 138: 6, 139: 7, 140: 4, 148: 9, 149: 3, 151: 2, 152: 2, 153: 5, 154: 5, 160: 4, 162: 3, 164: 5, 168: 3, 169: 3, 170: 3, 174: 3, 176: 5, 177: 2, 178: 2, 182: 4, 185: 5, 186: 5, 187: 3, 188: 3, 189: 3, 193: 8, 194: 8, 195: 8, 196: 9, 198: 2, 199: 2, 200: 6},
    8: {137: 11, 138: 8, 139: 8, 140: 11, 141: 2, 145: 2, 148: 21, 153: 14, 155: 5, 156: 5, 161: 4, 164: 5, 166: 2, 169: 3, 170: 6, 174: 15, 175: 5, 176: 5, 178: 2, 186: 4, 187: 6, 188: 6, 189: 3, 191: 2, 192: 2, 193: 8, 194: 4, 195: 5, 196: 21, 197: 8, 199: 4, 200: 14},
    7: {137: 11, 138: 17, 139: 3, 140: 3, 142: 4, 148: 15, 153: 14, 154: 3, 155: 12, 160: 5, 164: 8, 168: 3, 170: 3, 171: 3, 172: 3, 174: 4, 187: 5, 188: 6, 189: 9, 191: 10, 193: 3, 195: 4, 196: 3, 197: 8, 198: 2, 200: 6},
    6: {137: 5, 138: 16, 141: 4, 148: 14, 154: 9, 155: 9, 156: 9, 157: 5, 160: 3, 161: 2, 165: 2, 166: 3, 171: 9, 175: 10, 176: 3, 188: 4, 189: 3, 193: 2, 198: 2},
    5: {138: 4, 142: 18, 144: 9, 148: 11, 154: 4, 155: 12, 156: 10, 157: 3, 159: 5, 161: 2, 163: 2, 168: 5, 175: 2, 188: 5, 189: 11, 191: 6},
    4: {142: 3, 144: 6, 149: 4, 155: 11, 156: 10, 157: 3, 161: 4, 163: 2, 164: 4, 166: 4, 191: 6},
    3: {144: 4, 155: 10, 156: 20, 157: 4, 161: 2, 191: 9},
    2: {144: 4, 155: 5, 156: 13, 157: 12, 161: 4, 162: 3, 163: 4},
    1: {156: 5, 161: 2},
    0: {160: 3},
}

# The three palest levels in the tables above are single, double and triple detections
pale_levels = {2: 1, 3: 2, 4: 3}

# Fill the day/slot grid
grid = np.zeros((n_slots, n_days))
for counts in [autumn_counts, winter_counts, spring_daytime_counts, spring_dawn_counts, spring_night_counts]:
    for slot, row in counts.items():
        for day, value in row.items():
            grid[slot, day] = pale_levels.get(value, value)

# --- FIGURE ---
W, H = 2780, 1360
INK = "#2a3f5f"
fig = plt.figure(figsize=(W / 200, H / 200), dpi=200, facecolor="white")
plt.rcParams["font.family"] = "DejaVu Sans"


def box(left, top, right, bottom):
    # Pixel box to figure fractions
    return [left / W, 1 - bottom / H, (right - left) / W, (bottom - top) / H]


ax = fig.add_axes(box(114, 147, 2528, 1252))

# Cells are centred on their day and their quarter hour
day_edges = np.arange(n_days + 1) - 0.5
hour_edges = (np.arange(n_slots + 1) - 0.5) * 0.25
mesh = ax.pcolormesh(day_edges, hour_edges, grid, cmap="viridis", vmin=0, vmax=35, linewidth=0, rasterized=True)
ax.set_xlim(day_edges[0], day_edges[-1])
ax.set_ylim(hour_edges[0], hour_edges[-1])

# Sun lines
ax.plot(sunrise_days, sunrise_hours, color="white", lw=1.15, solid_joinstyle="miter")
ax.plot(sunset_days, sunset_hours, color="white", lw=1.15, dashes=(2, 2), dash_capstyle="butt")
ax.text(6, 7.78, "SUNRISE", color="#FFD700", fontsize=9.5, family="Liberation Sans", ha="center", va="center")
ax.text(6.2, 19.64, "SUNSET", color="#FFD700", fontsize=9.5, family="Liberation Sans", ha="center", va="center")

# Axes
for side in ax.spines.values():
    side.set_visible(False)

tick_dates = [pd.Timestamp(d) for d in month_ticks]
ax.set_xticks([(d - first_day).days for d in tick_dates])
ax.set_xticklabels([d.strftime("%b %Y") for d in tick_dates], fontsize=8.7, color=INK)
ax.tick_params(axis="x", length=0, pad=2.5)
ax.set_yticks([])

# The 24 label sits past the end of the axis range, so these are placed by hand
for hour in hour_ticks:
    ax.annotate(str(hour), xy=(0, hour), xycoords=("axes fraction", "data"), xytext=(-4.5, -0.5),
                textcoords="offset points", ha="right", va="center", fontsize=8.7, color=INK, annotation_clip=False)

fig.text(1321 / W, 1 - 1322 / H, "Date", fontsize=10, color=INK, ha="center", va="center")
fig.text(27 / W, 1 - 692 / H, "Hour of day", fontsize=10, color=INK, ha="center", va="center", rotation=90)

# Colorbar
cax = fig.add_axes(box(2598, 206, 2658, 1231))
bar = fig.colorbar(mesh, cax=cax, ticks=count_ticks)
bar.outline.set_visible(False)
bar.ax.tick_params(length=0, pad=2, labelsize=8.7, labelcolor=INK)
fig.text(2598 / W, 1 - 181 / H, "Detections", fontsize=10, color=INK, ha="left", va="center")

# Title block
fig.text(115 / W, 1 - 37 / H, "Eurasian Wren Vocal Activity Density", fontsize=12.25, color=INK, ha="left", va="center")
fig.text(118 / W, 1 - 76 / H, "11,676 detections; 15-minute bins", fontsize=9.5, color="#5a6b80", ha="left", va="center")

fig.savefig("out.png", dpi=200, facecolor="white")
